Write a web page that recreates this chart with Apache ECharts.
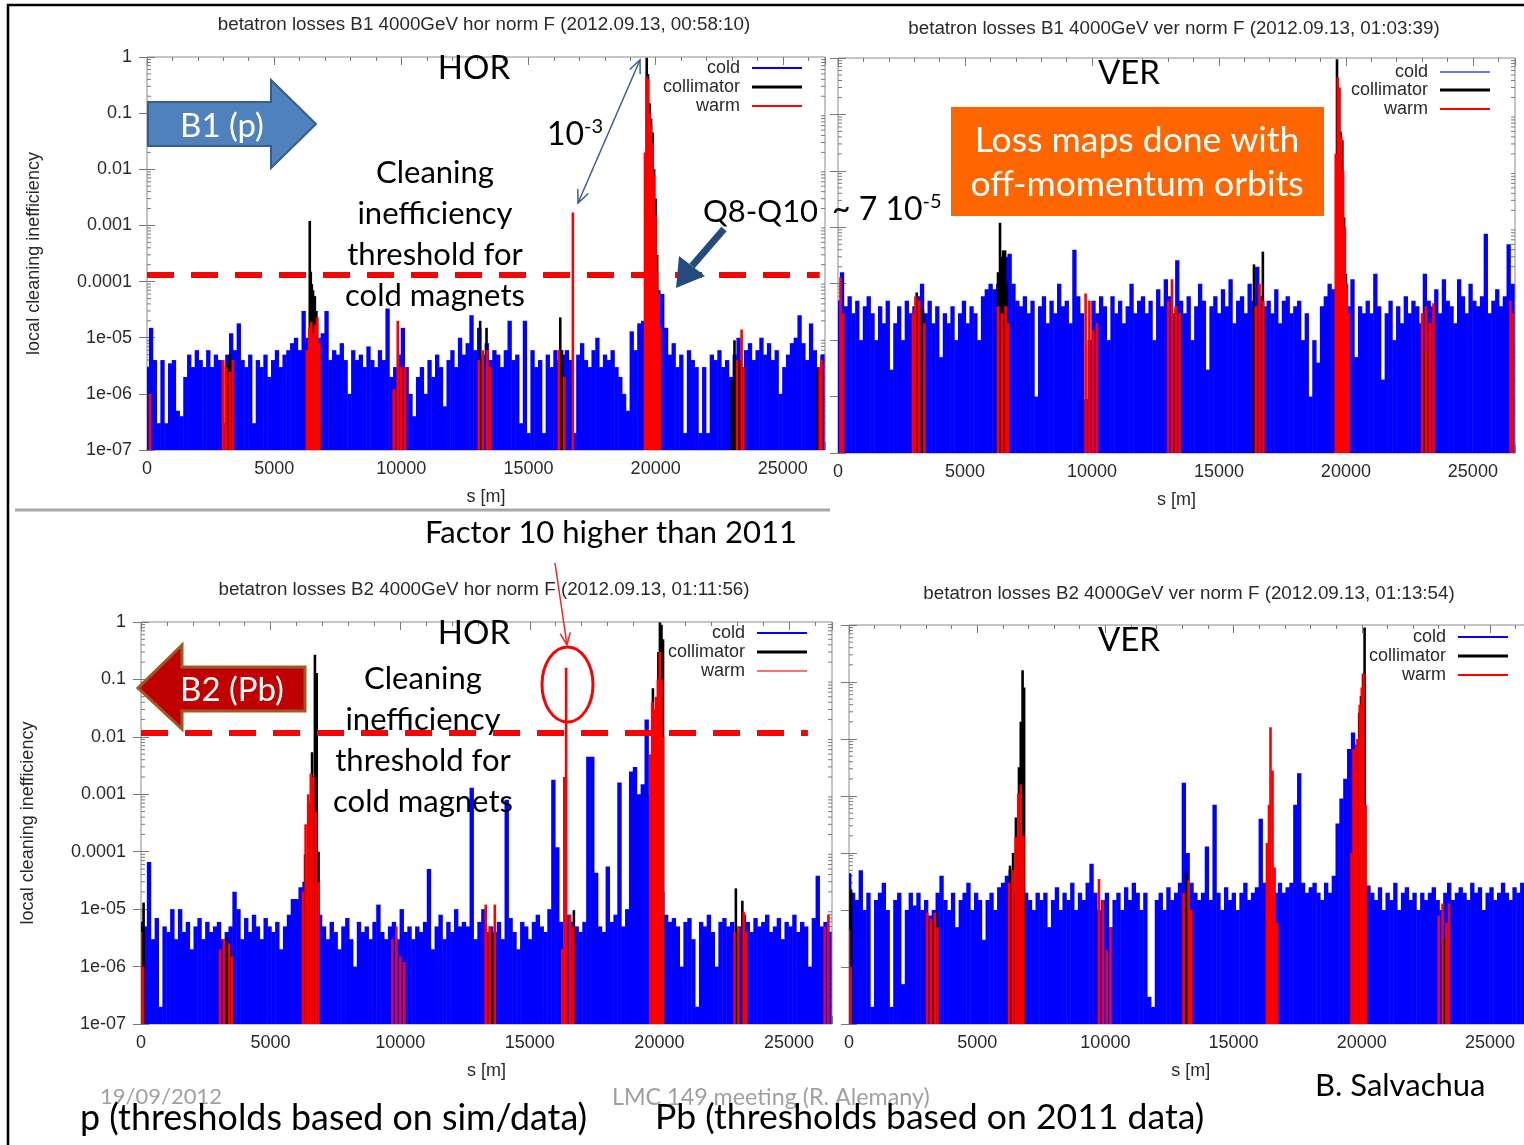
<!DOCTYPE html>
<html>
<head>
<meta charset="utf-8">
<script src="https://cdn.jsdelivr.net/npm/echarts@6/dist/echarts.min.js"></script>
<style>
html,body{margin:0;padding:0;background:#fff;}
#chart{width:1524px;height:1145px;}
</style>
</head>
<body>
<div id="chart"></div>
<script>
// Beam loss monitor positions along the ring, s [m]
const blmPos = [
  0,150,300,450,600,750,900,1050,1200,1350,
  1500,1650,1800,1950,2100,2250,2400,2550,2700,2850,
  3000,3150,3300,3450,3600,3750,3900,4050,4200,4350,
  4500,4650,4800,4950,5100,5250,5400,5550,5700,5850,
  6000,6150,6300,6450,6600,6750,6900,7050,7200,7350,
  7500,7650,7800,7950,8100,8250,8400,8550,8700,8850,
  9000,9150,9300,9450,9600,9750,9900,10050,10200,10350,
  10500,10650,10800,10950,11100,11250,11400,11550,11700,11850,
  12000,12150,12300,12450,12600,12750,12900,13050,13200,13350,
  13500,13650,13800,13950,14100,14250,14400,14550,14700,14850,
  15000,15150,15300,15450,15600,15750,15900,16050,16200,16350,
  16500,16650,16800,16950,17100,17250,17400,17550,17700,17850,
  18000,18150,18300,18450,18600,18750,18900,19050,19200,19350,
  19500,19650,19800,19950,20100,20250,20400,20550,20700,20850,
  21000,21150,21300,21450,21600,21750,21900,22050,22200,22350,
  22500,22650,22800,22950,23100,23250,23400,23550,23700,23850,
  24000,24150,24300,24450,24600,24750,24900,25050,25200,25350,
  25500,25650,25800,25950,26100,26250,26400,26550
];

// B1 horizontal — cold magnets (one value per monitor position)
const b1HorCold = [
  3e-6,1.5e-5,4e-6,3e-7,4e-6,3e-7,3.5e-6,4e-6,5e-7,4e-7,
  2e-6,5e-6,3e-6,6e-6,4e-6,3e-6,6e-6,3e-6,5e-6,4e-6,
  3e-7,5e-6,1.2e-5,6e-6,1.8e-5,4e-6,3e-6,5e-6,3e-7,4e-6,
  3e-6,5e-6,2e-6,4e-6,6e-6,3e-6,5e-6,6e-6,8e-6,1e-5,
  6e-6,3e-5,1e-5,2e-5,8e-6,1e-5,1.2e-5,3e-5,4e-6,6e-6,
  5e-6,8e-6,4e-6,1e-6,6e-6,4e-6,5e-6,3e-6,7e-6,4e-6,
  3e-6,6e-6,4e-6,3.3e-5,2e-6,3e-6,5e-6,1.5e-5,3e-6,1e-6,
  4e-7,2e-6,3e-6,1e-6,4e-6,2e-6,5e-6,3e-6,6e-7,4e-6,
  6e-6,3e-6,1e-5,5e-6,8e-6,2.5e-5,6e-6,1.5e-5,5e-6,8e-6,
  4e-6,6e-6,5e-6,3e-6,6e-6,2e-5,4e-6,5e-6,3e-7,2e-5,
  2e-7,6e-6,3e-6,4e-6,2e-7,5e-6,3e-6,6e-6,4e-6,5e-6,
  6e-6,4e-6,2e-7,5e-6,8e-6,4e-6,3e-6,6e-6,1e-5,3e-6,
  5e-6,4e-6,6e-6,3e-6,2e-6,1e-6,5e-7,1.3e-5,6e-6,1.8e-5,
  2e-5,1e-5,1.5e-5,2e-5,7e-5,6e-5,1.5e-5,5e-6,8e-6,3e-6,
  5e-6,2e-7,6e-6,4e-6,3e-6,2e-7,3e-6,2e-7,5e-6,4e-6,
  6e-6,3e-6,4e-6,2e-6,5e-6,1e-5,3e-6,6e-6,8e-6,4e-6,
  6e-6,1e-5,5e-6,8e-6,4e-6,6e-6,1e-6,3e-6,5e-6,8e-6,
  1e-5,2.5e-5,8e-6,4e-6,1.8e-5,6e-6,3e-6,5e-6
];
// B1 horizontal — collimators [s, value]
const b1HorColl = [
  [3180,3.7e-6],[3260,5e-6],[6400,1.2e-3],[6440,1.5e-4],[6480,9e-5],[6530,7e-5],[6600,5.5e-5],
  [6660,3e-5],[6720,4e-6],[6780,3e-7],[13100,2e-5],[13350,1.5e-5],[16250,2.3e-5],[16320,6e-6],
  [19650,0.97],[19700,0.5],[19760,0.15],[19820,0.08],[19880,0.045],[19940,0.01],[20000,0.003],
  [20060,3e-4],[23000,1.8e-6],[23100,9e-6],[23300,4e-6],[26380,2.7e-6]
];
// B1 horizontal — warm elements [s, value]
const b1HorWarm = [
  [120,1e-6],[3000,4e-6],[3100,3e-6],[3250,2.5e-6],[3380,4e-6],[6300,6e-6],[6380,1.5e-5],
  [6460,1.9e-5],[6540,1.2e-5],[6620,1.7e-5],[6700,2.3e-5],[6780,8e-6],[9700,1.2e-6],[9860,2e-5],
  [10000,3e-6],[10150,3e-6],[13050,4e-6],[13200,6e-6],[13380,6e-6],[13480,3e-6],[16200,6e-6],
  [16400,2e-6],[16745,1.7e-3],[19580,0.02],[19640,0.45],[19700,0.4],[19760,0.1],[19820,0.06],
  [19880,0.03],[19940,0.008],[20000,0.0015],[20060,1.5e-4],[20120,6e-5],[20180,1.5e-5],
  [23200,4e-6],[23380,1.4e-5],[23450,3e-6],[26450,3e-6],[26520,4e-6]
];

// B1 vertical
const b1VerCold = [
  5e-5,1.6e-4,4e-5,6e-5,3e-5,5e-5,1e-5,4e-5,6e-5,3e-5,
  1e-5,4e-5,2e-5,5e-5,3e-6,2e-5,4e-5,1e-5,5e-5,3e-5,
  4e-5,6e-5,1e-4,3e-5,5e-5,2e-5,4e-5,5e-6,3e-5,2e-5,
  4e-5,1e-5,3e-5,5e-5,2e-5,4e-5,3e-5,1e-5,6e-5,8e-5,
  1e-4,8e-5,1e-4,2e-4,3e-4,3.4e-4,1e-4,5e-5,4e-5,6e-5,
  3e-5,5e-5,1e-6,4e-5,6e-5,2e-5,5e-5,3e-5,1e-4,4e-5,
  5e-5,2e-5,4e-4,6e-5,3e-5,9e-7,1e-5,5e-5,3e-5,6e-5,
  4e-5,1e-5,6e-5,3e-5,5e-5,2e-5,4e-5,1e-4,3e-5,5e-5,
  6e-5,3e-5,5e-5,1e-5,8e-5,4e-5,1.2e-4,6e-5,3e-5,2.6e-4,
  5e-5,3e-5,6e-5,1e-5,4e-5,1e-4,5e-5,3e-6,4e-5,6e-5,
  3e-5,8e-5,4e-5,1.2e-4,2e-5,5e-5,6e-5,3e-5,1e-4,5e-5,
  2e-4,6e-5,4e-5,5e-5,3e-5,8e-5,2e-5,5e-5,6e-5,3e-5,
  4e-5,5e-5,1e-5,3e-5,1e-6,1e-5,4e-6,4e-5,6e-5,1e-4,
  8e-5,1e-4,6e-5,5e-5,4e-5,1.2e-4,5e-6,4e-5,3e-5,5e-5,
  3e-5,1.5e-4,4e-5,2e-6,3e-5,5e-5,1e-5,4e-5,2e-5,6e-5,
  3e-5,5e-5,4e-5,2e-5,1.5e-4,5e-5,4e-5,8e-5,3e-5,1.2e-4,
  5e-5,4e-5,2e-5,1.2e-4,6e-5,3e-5,1e-4,5e-5,4e-5,6e-5,
  7.7e-4,3e-5,5e-5,8e-5,4e-5,6e-5,5e-4,1e-4
];
const b1VerColl = [
  [3100,7e-5],[3350,3.4e-5],[6300,1.6e-4],[6380,1.2e-3],[6440,3e-4],[6500,3.9e-4],[6580,3.9e-4],
  [6640,1e-4],[13300,3.7e-5],[16380,2.2e-4],[16730,3.7e-4],[19650,0.95],[19720,0.12],[19790,0.05],
  [19860,0.035],[19930,0.0015],[20000,1.5e-4],[23100,6e-6]
];
const b1VerWarm = [
  [100,1.3e-4],[200,3e-5],[2950,3e-5],[3050,6e-5],[3200,5e-5],[3400,2e-5],[6300,4e-5],[6450,3e-5],
  [6600,4e-5],[6700,2e-5],[9750,6.7e-5],[9900,5e-5],[10050,1.5e-5],[10200,2e-5],[13000,5e-5],
  [13150,1.2e-4],[13300,4e-5],[13450,3e-5],[16450,4e-5],[16600,1e-4],[16750,5e-5],[19600,0.02],
  [19680,0.45],[19750,0.3],[19820,0.04],[19890,0.01],[19960,1e-3],[20040,1e-4],[20120,3e-5],
  [23000,3e-5],[23150,4e-5],[23300,2e-5],[23450,4.5e-5],[26480,5e-5],[26560,3e-5]
];

// B2 horizontal
const b2HorCold = [
  6e-6,5e-6,6.6e-5,3e-6,7e-6,2e-7,5e-6,4e-6,1e-5,3e-6,
  1e-5,4e-6,6e-6,2e-6,5e-6,7e-6,3e-6,6e-6,4e-6,5e-6,
  6e-6,3e-6,4e-6,5e-6,2e-5,1e-5,3e-6,7e-6,4e-6,8e-6,
  5e-6,3e-6,7e-6,5e-6,4e-6,6e-6,2e-6,5e-6,8e-6,1.5e-5,
  1.5e-5,2.4e-5,3e-5,1e-5,6e-6,4.3e-5,8e-6,5e-6,3e-6,6e-6,
  4e-6,2e-6,5e-6,7e-6,3e-6,1e-6,6e-6,4e-6,5e-6,3e-6,
  6e-6,1.2e-5,4e-6,3e-6,5e-6,6e-6,3e-6,1e-5,4e-6,5e-6,
  3e-6,5e-6,4e-6,6e-6,5e-5,2e-6,5e-6,8e-6,3e-6,6e-6,
  4e-6,1e-5,5e-6,6e-6,5e-6,1.3e-3,3e-6,6e-6,1e-5,4e-6,
  5e-6,4e-6,6e-6,3e-6,8e-4,7e-6,4e-6,2e-6,6e-6,5e-6,
  3e-6,6e-6,8e-6,5e-6,4e-6,1e-5,1.8e-3,1.2e-4,6e-6,5e-6,
  8e-6,6e-6,5e-6,4e-6,6e-6,4.5e-3,4.5e-3,4.3e-5,5e-6,4e-6,
  5.5e-5,6e-6,8e-6,1.6e-3,5e-6,1e-5,2.5e-3,3e-3,1e-3,1.5e-3,
  0.02,1e-3,3e-4,4e-5,2e-5,8e-6,6e-6,7e-6,5e-6,1e-6,
  6e-6,7e-6,3e-6,2e-7,6e-6,5e-6,8e-6,4e-6,1e-6,6e-6,
  7e-6,5e-6,6e-6,4e-6,5e-6,8e-6,6e-6,4e-6,7e-6,5e-6,
  6e-6,8e-6,4e-6,5e-6,7e-6,3e-6,6e-6,5e-6,8e-6,4e-6,
  6e-6,5e-6,1e-6,7e-6,3.8e-5,5e-6,6e-6,4e-6
];
const b2HorColl = [
  [40,5e-6],[100,1.3e-5],[3300,3.2e-6],[3450,2e-6],[6330,9e-5],[6450,2e-4],[6520,7e-4],[6600,5.4e-3],
  [6710,0.27],[6780,0.13],[6850,1e-4],[13550,3.8e-6],[16700,9.6e-6],[19750,0.07],[19900,0.022],
  [19960,0.3],[20020,0.98],[20080,0.9],[20140,0.5],[22950,2.3e-5],[23200,1.4e-5]
];
const b2HorWarm = [
  [0,4e-6],[80,1e-6],[3050,2e-6],[3200,3e-6],[3400,2.5e-6],[3500,1.5e-6],[6250,2e-5],[6350,3e-4],
  [6450,1e-3],[6550,2.3e-3],[6650,2e-3],[6750,5e-4],[6850,3e-5],[9700,3e-6],[9850,5e-6],
  [10000,1.5e-6],[10150,1.2e-6],[13300,1.2e-5],[13450,5e-6],[13650,1.2e-5],[16250,2e-6],
  [16330,2e-3],[16400,0.16],[16550,8e-6],[16680,5e-6],[19650,0.005],[19720,0.04],[19800,0.03],
  [19870,0.05],[19940,0.1],[20010,0.3],[20080,0.1],[20140,0.01],[22900,4e-6],[23050,5e-6],
  [23250,9e-6],[23350,4e-6],[26380,5e-6],[26520,8e-6]
];

// B2 vertical
const b2VerCold = [
  4.4e-5,2e-5,1.5e-5,5e-5,1e-5,2e-5,2e-7,1.5e-5,2e-5,3e-5,
  1e-5,2e-7,1.5e-5,2e-5,5e-7,1e-5,2e-5,1.2e-5,2e-5,1e-5,
  1.5e-5,8e-6,1e-5,2e-5,4e-5,1.5e-5,1e-5,2e-5,5e-6,1.5e-5,
  2e-5,3e-5,1e-5,2e-5,1.5e-5,3e-6,1.5e-5,2e-5,1e-5,2.5e-5,
  3e-5,4e-5,5e-5,2e-5,3e-5,6e-5,2e-5,1.5e-5,1e-5,2e-5,
  1.5e-5,2e-5,5e-6,1.5e-5,2.5e-5,1e-5,2e-5,1.5e-5,3e-5,1e-5,
  2e-5,1.5e-5,3e-5,6.5e-5,2e-5,1e-5,1.5e-5,2e-5,5e-6,1.5e-5,
  2e-5,1e-5,2.5e-5,1.5e-5,3e-5,2e-5,1e-5,2e-5,3e-7,2e-7,
  1.5e-5,2e-5,1e-5,2.5e-5,1.5e-5,2e-5,3e-5,1.7e-3,1e-4,3e-5,
  2e-5,1.5e-5,2e-5,1.3e-4,1.5e-5,7e-4,2e-5,1e-5,2.5e-5,1.5e-5,
  2e-5,1e-5,2e-5,3e-5,1.5e-5,2e-5,2.5e-5,4e-4,3e-5,2e-5,
  1.5e-5,2e-5,3e-5,2e-5,2.5e-5,3e-5,7e-4,2.5e-3,3e-5,2e-5,
  2.5e-5,3e-5,2e-5,1.5e-5,3e-5,2e-5,4e-5,3.3e-4,9e-4,2e-3,
  6.7e-3,1.3e-2,3e-4,1e-4,3e-5,2.7e-5,2e-5,1.5e-5,2.5e-5,1e-5,
  2e-5,1.5e-5,3e-5,1e-5,2e-5,2.5e-5,1.5e-5,2e-5,1e-5,2e-5,
  1.5e-5,2e-5,2.5e-5,1.5e-5,1e-5,2e-5,3e-5,1.5e-5,2e-5,2.5e-5,
  2e-5,1.5e-5,3e-5,2e-5,2.5e-5,1e-5,2e-5,2.5e-5,1.5e-5,2e-5,
  3e-5,2e-5,1.5e-5,2.5e-5,2e-5,3e-5,1.5e-5,2e-5
];
const b2VerColl = [
  [80,2.3e-5],[3300,6e-6],[3420,9e-6],[6280,6e-5],[6400,1e-4],[6510,4.2e-4],[6630,3.2e-3],[6700,0.02],
  [6770,0.16],[6830,0.08],[13150,4.6e-5],[16580,5e-6],[19730,2.5e-3],[19800,8e-3],[19900,0.029],
  [19970,0.057],[20050,0.14],[20110,0.9],[23250,3.2e-6]
];
const b2VerWarm = [
  [0,4.4e-6],[60,1e-6],[3050,9e-6],[3200,7e-6],[3350,9e-6],[3450,5e-6],[6250,3e-5],[6380,5e-5],
  [6500,1.9e-4],[6600,1.1e-3],[6700,1.6e-3],[6800,2e-4],[9750,3.5e-5],[9900,1.5e-5],[10050,2e-6],
  [10200,5e-6],[13050,2e-5],[13250,3.4e-5],[13350,1e-5],[16300,1.5e-4],[16380,7e-4],[16440,0.016],
  [16520,2.8e-3],[16600,5.6e-5],[16700,6e-6],[19600,1e-4],[19680,6.6e-3],[19760,2.8e-3],
  [19830,0.01],[19920,0.04],[20000,0.08],[20070,0.14],[20150,7e-4],[23000,8e-6],[23150,1.3e-5],
  [23300,6e-6],[23400,1.3e-5]
];

// Cold-magnet quench-protection thresholds drawn as dashed lines
const thresholdB1 = 1.3e-4;
const thresholdB2 = 1.2e-2;

// Axis ticks
const xTicks = [0, 5000, 10000, 15000, 20000, 25000];
const yTickLabels = ['1e-07','1e-06','1e-05','0.0001','0.001','0.01','0.1','1'];
const yMinorMantissas = [2, 3, 4, 5, 6, 7, 8, 9];
const Y_MIN = 1e-7, Y_MAX = 1, RING = 26659, BLM_STEP = 150;

// log-axis minor tick values (2..9 in each decade)
const yMinorTicks = [];
yTickLabels.slice(0, -1).forEach(lbl => {
  const decade = Number(lbl);
  yMinorMantissas.forEach(m => yMinorTicks.push(m * decade));
});

const seriesNames = ['cold', 'collimator', 'warm'];
const titles = [
  'betatron losses B1 4000GeV hor norm F (2012.09.13, 00:58:10)',
  'betatron losses B1 4000GeV ver norm F (2012.09.13, 01:03:39)',
  'betatron losses B2 4000GeV hor norm F (2012.09.13, 01:11:56)',
  'betatron losses B2 4000GeV ver norm F (2012.09.13, 01:13:54)'
];

const GNU_FONT = 'Liberation Sans, Arial, sans-serif';
const SLIDE_FONT = 'Lato, Open Sans, sans-serif';
const COLD = '#0000ff', COLL = '#000000', WARM = '#ff0000';

const panels = [
  { cold: b1HorCold, coll: b1HorColl, warm: b1HorWarm,
    grid: { left: 147, top: 57, width: 678, height: 393 }, yLabels: true,
    title: { x: 484, y: 15 }, legendRight: 722, legendRows: [68, 87, 106],
    legendColors: [COLD, COLL, WARM], threshold: thresholdB1, thresholdSpan: [0, 26450] },
  { cold: b1VerCold, coll: b1VerColl, warm: b1VerWarm,
    grid: { left: 838, top: 58, width: 677, height: 395 }, yLabels: false,
    title: { x: 1174, y: 19 }, legendRight: 34, legendRows: [72, 90, 109],
    legendColors: ['#7474ff', COLL, WARM] },
  { cold: b2HorCold, coll: b2HorColl, warm: b2HorWarm,
    grid: { left: 141, top: 622, width: 691, height: 402 }, yLabels: true,
    title: { x: 484, y: 580 }, legendRight: 717, legendRows: [633, 652, 671],
    legendColors: [COLD, COLL, '#ff7070'], threshold: thresholdB2, thresholdSpan: [0, 25730] },
  { cold: b2VerCold, coll: b2VerColl, warm: b2VerWarm,
    grid: { left: 849, top: 625, width: 683.5, height: 399 }, yLabels: false,
    title: { x: 1189, y: 584 }, legendRight: 16, legendRows: [637, 656, 675],
    legendColors: [COLD, COLL, WARM] }
];

const tickColor = '#7a7a7a';

// Cold monitors: contiguous bars, one monitor bin wide
function coldBar(params, api) {
  const s = api.value(0), v = api.value(1);
  if (!(v > Y_MIN)) return null;
  const top = api.coord([s, v]);
  const base = api.coord([s, Y_MIN]);
  const l = api.coord([s - BLM_STEP / 2, v])[0];
  const r = api.coord([s + BLM_STEP / 2, v])[0];
  return { type: 'rect', shape: { x: l, y: top[1], width: r - l + 0.5, height: base[1] - top[1] },
           style: { fill: COLD } };
}
// Collimators / warm elements: thin impulses
function spikeBar(color, w) {
  return function (params, api) {
    const s = api.value(0), v = api.value(1);
    if (!(v > Y_MIN)) return null;
    const top = api.coord([s, v]);
    const base = api.coord([s, Y_MIN]);
    return { type: 'rect', shape: { x: top[0] - w / 2, y: top[1], width: w, height: base[1] - top[1] },
             style: { fill: color } };
  };
}
// Logarithmic minor ticks on both vertical frame edges
function minorTickMark(params, api) {
  const v = api.value(1);
  const l = api.coord([0, v]), r = api.coord([RING, v]);
  const st = { stroke: tickColor, lineWidth: 1 };
  return { type: 'group', children: [
    { type: 'line', shape: { x1: l[0], y1: l[1], x2: l[0] + 4, y2: l[1] }, style: st },
    { type: 'line', shape: { x1: r[0] - 4, y1: r[1], x2: r[0], y2: r[1] }, style: st }
  ] };
}

const grids = [], xAxes = [], yAxes = [], series = [], legends = [], titleComps = [];
const labelStyle = { fontFamily: GNU_FONT, fontSize: 18, color: '#2a2a2a' };

panels.forEach((p, i) => {
  grids.push(Object.assign({ show: true, borderColor: '#8a8a8a', borderWidth: 1,
    backgroundColor: 'transparent', containLabel: false, outerBoundsMode: 'none' }, p.grid));

  const xBase = { gridIndex: i, type: 'value', min: 0, max: RING, interval: 5000,
    splitLine: { show: false }, axisLine: { show: false },
    axisTick: { show: true, inside: true, length: 8, lineStyle: { color: tickColor } },
    minorTick: { show: true, splitNumber: 5, length: 4, lineStyle: { color: tickColor } } };
  xAxes.push(Object.assign({}, xBase, { position: 'bottom',
    axisLabel: Object.assign({ margin: 10, showMaxLabel: false,
      formatter: v => (xTicks.indexOf(v) >= 0 ? String(v) : '') }, labelStyle),
    name: 's [m]', nameLocation: 'middle', nameGap: 38, nameMoveOverlap: false,
    nameTextStyle: labelStyle }));

  yAxes.push({ gridIndex: i, type: 'log', logBase: 10, min: Y_MIN, max: Y_MAX, position: 'left',
    splitLine: { show: false }, axisLine: { show: false },
    axisTick: { show: true, inside: true, length: 8, lineStyle: { color: tickColor } },
    minorTick: { show: false },
    axisLabel: Object.assign({ show: p.yLabels, margin: 15,
      formatter: v => yTickLabels[Math.round(Math.log10(v)) + 7] || '' }, labelStyle),
    name: p.yLabels ? 'local cleaning inefficiency' : '', nameLocation: 'middle',
    nameGap: p.yLabels ? 104 : 0, nameRotate: 90, nameMoveOverlap: false, nameTextStyle: labelStyle });

  titleComps.push({ text: titles[i], left: p.title.x, top: p.title.y, textAlign: 'center', padding: 0,
    textStyle: { fontFamily: GNU_FONT, fontSize: 18.8, fontWeight: 'normal', color: '#2a2a2a' } });

  series.push({ name: 'minor ticks', type: 'custom', xAxisIndex: i, yAxisIndex: i, silent: true,
    encode: { x: 0, y: 1 }, data: yMinorTicks.map(v => [0, v]), renderItem: minorTickMark });
  series.push({ name: 'cold', type: 'custom', xAxisIndex: i, yAxisIndex: i, clip: true,
    itemStyle: { color: COLD }, encode: { x: 0, y: 1 },
    data: blmPos.map((s, k) => [s, p.cold[k]]), renderItem: coldBar });
  series.push({ name: 'collimator', type: 'custom', xAxisIndex: i, yAxisIndex: i, clip: true,
    itemStyle: { color: COLL }, encode: { x: 0, y: 1 }, data: p.coll, renderItem: spikeBar(COLL, 2.6) });
  const warm = { name: 'warm', type: 'custom', xAxisIndex: i, yAxisIndex: i, clip: true,
    itemStyle: { color: WARM }, encode: { x: 0, y: 1 }, data: p.warm, renderItem: spikeBar(WARM, 2.6) };
  if (p.threshold) {
    warm.markLine = { silent: true, symbol: ['none', 'none'], label: { show: false },
      lineStyle: { color: '#ff0000', width: 6, type: [27, 17] },
      data: [[{ coord: [p.thresholdSpan[0], p.threshold] }, { coord: [p.thresholdSpan[1], p.threshold] }]] };
  }
  series.push(warm);

  seriesNames.forEach((name, k) => {
    legends.push({ show: true, selectedMode: false, orient: 'vertical', align: 'right', padding: 0,
      right: p.legendRight, top: p.legendRows[k] - 9, itemWidth: 50, itemHeight: k === 1 ? 3 : 2,
      data: [{ name: name, icon: 'rect', itemStyle: { color: p.legendColors[k] } }],
      textStyle: { fontFamily: GNU_FONT, fontSize: 18, color: '#2a2a2a', lineHeight: 18, padding: [0, 7, 0, 0] } });
  });
});

// Mirror axes (ticks only) on top and right of each frame
panels.forEach((p, i) => {
  xAxes.push({ gridIndex: i, type: 'value', min: 0, max: RING, interval: 5000, position: 'top',
    splitLine: { show: false }, axisLine: { show: false }, axisLabel: { show: false },
    axisTick: { show: true, inside: true, length: 8, lineStyle: { color: tickColor } },
    minorTick: { show: true, splitNumber: 5, length: 4, lineStyle: { color: tickColor } } });
  yAxes.push({ gridIndex: i, type: 'log', logBase: 10, min: Y_MIN, max: Y_MAX, position: 'right',
    splitLine: { show: false }, axisLine: { show: false }, axisLabel: { show: false },
    axisTick: { show: true, inside: true, length: 8, lineStyle: { color: tickColor } },
    minorTick: { show: false } });
});

// ---- slide annotations ----
function text(x, y, str, size, opt) {
  opt = opt || {};
  const style = { text: str, fill: opt.fill || '#000', font: 'normal ' + size + 'px ' + SLIDE_FONT,
    align: opt.align || 'center', verticalAlign: opt.valign || 'middle' };
  if (opt.lineHeight) style.lineHeight = opt.lineHeight;
  if (opt.rich) style.rich = opt.rich;
  return { type: 'text', x: x, y: y, z: 100, silent: true, style: style };
}
function arrowHead(tip, from, len, spread) {
  const dx = from[0] - tip[0], dy = from[1] - tip[1], d = Math.hypot(dx, dy);
  const ux = dx / d, uy = dy / d, c = Math.cos(spread), s = Math.sin(spread);
  return [[tip[0] + len * (ux * c - uy * s), tip[1] + len * (ux * s + uy * c)], tip,
          [tip[0] + len * (ux * c + uy * s), tip[1] + len * (-ux * s + uy * c)]];
}
function line(a, b, color, w) {
  return { type: 'line', z: 100, silent: true, shape: { x1: a[0], y1: a[1], x2: b[0], y2: b[1] },
           style: { stroke: color, lineWidth: w } };
}
function poly(points, color, w) {
  return { type: 'polyline', z: 100, silent: true, shape: { points: points }, style: { stroke: color, lineWidth: w, fill: null } };
}
const supRich = {
  b: { fontSize: 32, fontFamily: SLIDE_FONT, lineHeight: 36, verticalAlign: 'bottom' },
  s: { fontSize: 20, fontFamily: SLIDE_FONT, lineHeight: 36, verticalAlign: 'top', padding: [2, 0, 0, 0] }
};

const dblA = [640, 60], dblB = [578, 203], dblColor = '#3c5f90';
const redArrowA = [555, 563], redArrowB = [567, 645];

const graphics = [
  // page frame and separator
  { type: 'polyline', z: 90, silent: true, shape: { points: [[8, 1145], [8, 5], [1524, 5]] },
    style: { stroke: '#000', lineWidth: 2.5, fill: null } },
  { type: 'line', z: 90, silent: true, shape: { x1: 15, y1: 510, x2: 830, y2: 510 },
    style: { stroke: '#a8a8a8', lineWidth: 3 } },

  // beam direction arrows
  { type: 'polygon', z: 100, silent: true,
    shape: { points: [[148, 102], [271, 102], [271, 80], [316, 124], [271, 168], [271, 146], [148, 146]] },
    style: { fill: '#4f81bd', stroke: '#385d8a', lineWidth: 2 } },
  text(222, 126, 'B1 (p)', 33, { fill: '#fff' }),
  { type: 'polygon', z: 100, silent: true,
    shape: { points: [[305, 667], [182, 667], [182, 645], [138, 688], [182, 729], [182, 711], [305, 711]] },
    style: { fill: '#c00000', stroke: '#9c5b22', lineWidth: 3 } },
  text(232, 690, 'B2 (Pb)', 33, { fill: '#fff' }),

  // orange note
  { type: 'rect', z: 100, silent: true, shape: { x: 951, y: 107, width: 373, height: 109 },
    style: { fill: '#ff6600' } },
  text(1137, 141, 'Loss maps done with', 35.5, { fill: '#fff' }),
  text(1137, 185, 'off-momentum orbits', 35.5, { fill: '#fff' }),

  // plane labels
  text(474, 68, 'HOR', 33), text(1129, 73, 'VER', 33),
  text(474, 633, 'HOR', 33), text(1129, 640, 'VER', 33),

  // threshold notes
  text(435, 234, 'Cleaning\ninefficiency\nthreshold for\ncold magnets', 31, { lineHeight: 41 }),
  text(423, 740, 'Cleaning\ninefficiency\nthreshold for\ncold magnets', 31, { lineHeight: 41 }),

  // 10^-3 ratio marker
  text(547, 133, '{b|10}{s|-3}', 32, { align: 'left', rich: supRich }),
  line(dblA, dblB, dblColor, 1.5),
  poly(arrowHead(dblA, dblB, 14, 0.42), dblColor, 1.5),
  poly(arrowHead(dblB, dblA, 14, 0.42), dblColor, 1.5),

  // Q8-Q10 pointer
  text(703, 212, 'Q8-Q10', 31, { align: 'left' }),
  line([724, 229], [692, 266], '#254b7c', 7),
  { type: 'polygon', z: 100, silent: true, shape: { points: [[676, 288], [679, 256], [705, 276]] },
    style: { fill: '#254b7c' } },
  text(832, 208, '{b|~ 7 10}{s|-5}', 32, { align: 'left', rich: supRich }),

  // 2012 vs 2011 note
  text(611, 533, 'Factor 10 higher than 2011', 31),
  { type: 'ellipse', z: 100, silent: true, shape: { cx: 567.5, cy: 684.5, rx: 25.5, ry: 37.5 },
    style: { stroke: '#ff0000', lineWidth: 3, fill: null } },
  line(redArrowA, redArrowB, '#ff2020', 1.5),
  poly(arrowHead(redArrowB, redArrowA, 13, 0.4), '#ff2020', 1.5),

  // footer
  text(100, 1097, '19/09/2012', 22, { align: 'left', fill: '#a0a0a0' }),
  text(612, 1097, 'LMC 149 meeting (R. Alemany)', 23.3, { align: 'left', fill: '#a0a0a0' }),
  text(80, 1118, 'p (thresholds based on sim/data)', 35.8, { align: 'left' }),
  text(655, 1118, 'Pb (thresholds based on 2011 data)', 35.6, { align: 'left' }),
  text(1315, 1086, 'B. Salvachua', 31, { align: 'left' })
];

const chart = echarts.init(document.getElementById('chart'), null, { renderer: 'canvas' });
chart.setOption({
  animation: false,
  backgroundColor: '#ffffff',
  textStyle: { fontFamily: GNU_FONT },
  title: titleComps,
  legend: legends,
  grid: grids,
  xAxis: xAxes,
  yAxis: yAxes,
  series: series,
  graphic: graphics
});
</script>
</body>
</html>
